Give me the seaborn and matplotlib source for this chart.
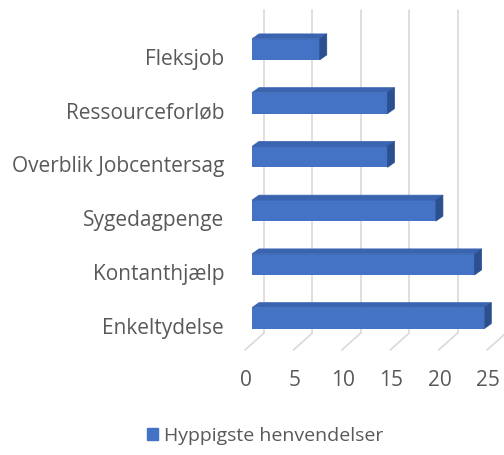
import seaborn as sns
import matplotlib.pyplot as plt
from matplotlib.patches import Polygon
from matplotlib.lines import Line2D
from matplotlib.transforms import IdentityTransform, ScaledTranslation

# chart data
categories = ["Fleksjob", "Ressourceforløb", "Overblik Jobcentersag",
              "Sygedagpenge", "Kontanthjælp", "Enkeltydelse"]
counts = [7, 14, 14, 19, 23, 24]
x_ticks = [0, 5, 10, 15, 20, 25]
series_name = "Hyppigste henvendelser"

front = "#4472C4"
top_col = "#3A64B0"
side_col = "#2C4F8F"
grid_col = "#D9D9D9"
text_col = "#595959"

sns.set_style("white")
plt.rcParams["font.family"] = ["Open Sans", "DejaVu Sans"]
fs = 15

W, H = 504, 455
fig = plt.figure(figsize=(W / 100, H / 100), dpi=100)
# axes placed in pixel terms (top-based y)
ax = fig.add_axes([252 / W, 1 - 345 / H, 242 / W, 322.5 / H])

sns.barplot(x=counts, y=categories, orient="h", color=front, width=0.39,
            saturation=1, linewidth=0, ax=ax, zorder=3)
ax.set_xlim(0, 25)
ax.set_ylim(5.5, -0.5)
ax.set_xticks(x_ticks)
ax.set_xlabel("")
ax.set_ylabel("")
sns.despine(ax=ax, left=True, bottom=True)
ax.tick_params(length=0, labelsize=fs, labelcolor=text_col)
ax.tick_params(axis="y", pad=20)
ax.tick_params(axis="x", pad=18)

# shift tick labels to sit like the 3D floor/labels of the original
for lab in ax.get_yticklabels():
    lab.set_transform(lab.get_transform() + ScaledTranslation(0, -0.075, fig.dpi_scale_trans))
for lab in ax.get_xticklabels():
    lab.set_transform(lab.get_transform() + ScaledTranslation(-0.06, 0, fig.dpi_scale_trans))

# 3D-ish faces for each bar, derived from the bar patches
dx, dy = 7, 5
bars = list(ax.patches)
for p in bars:
    (x0, y0) = ax.transData.transform((p.get_x(), p.get_y()))
    (x1, y1) = ax.transData.transform((p.get_x() + p.get_width(), p.get_y() + p.get_height()))
    xl, xr = min(x0, x1), max(x0, x1)
    yb, yt = min(y0, y1), max(y0, y1)
    top = Polygon([(xl, yt), (xr, yt), (xr + dx, yt + dy), (xl + dx, yt + dy)],
                  closed=True, facecolor=top_col, edgecolor=top_col, lw=0.5,
                  transform=IdentityTransform(), clip_on=False, zorder=3)
    side = Polygon([(xr, yb), (xr, yt), (xr + dx, yt + dy), (xr + dx, yb + dy)],
                   closed=True, facecolor=side_col, edgecolor=side_col, lw=0.5,
                   transform=IdentityTransform(), clip_on=False, zorder=3)
    ax.add_patch(top)
    ax.add_patch(side)

# back wall gridlines + floor lines
floor_front = H - 350
floor_back = H - 333
wall_top = H - 10
for t in x_ticks:
    xt = ax.transData.transform((t, 0))[0]
    ax.add_line(Line2D([xt - 7, xt + 12], [floor_front, floor_back], color=grid_col,
                       lw=1.2, transform=IdentityTransform(), clip_on=False, zorder=1))
    ax.add_line(Line2D([xt + 12, xt + 12], [floor_back, wall_top], color=grid_col,
                       lw=1.2, transform=IdentityTransform(), clip_on=False, zorder=1))

handles = [plt.Rectangle((0, 0), 1, 1, color=front)]
fig.legend(handles, [series_name], loc="center", bbox_to_anchor=(265 / W, 1 - 436 / H),
           frameon=False, fontsize=14, handlelength=0.6, handleheight=0.6,
           handletextpad=0.3, labelcolor=text_col)

fig.savefig("out.png", dpi=100)
